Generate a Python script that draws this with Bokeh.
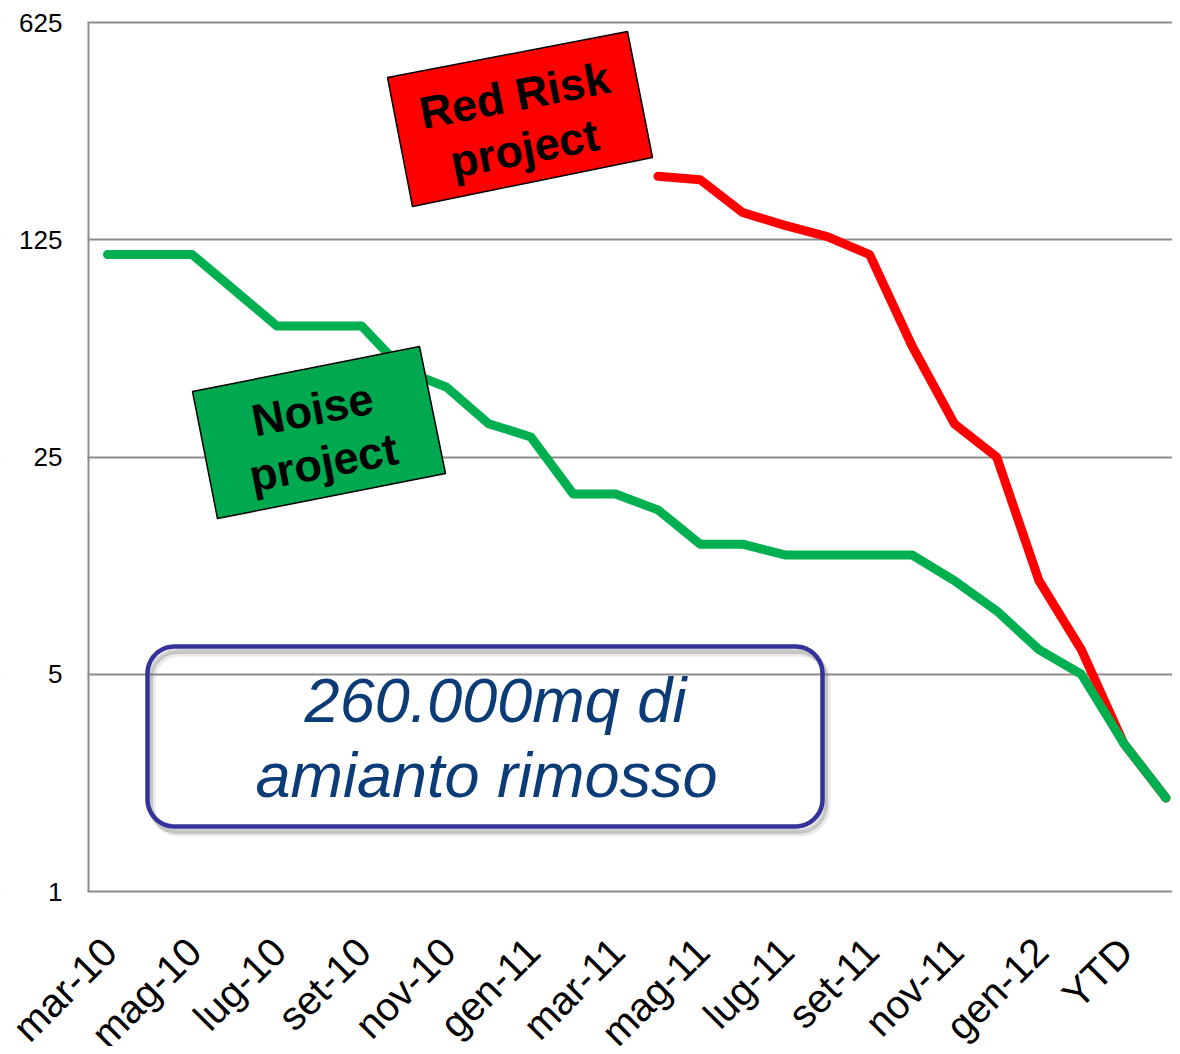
import math
from bokeh.plotting import figure
from bokeh.models import Range1d, FixedTicker, PolyAnnotation, Label
from bokeh.embed import file_html
from bokeh.resources import INLINE

nan = float("nan")

# ---- data ----
months = ["mar-10", "apr-10", "mag-10", "giu-10", "lug-10", "ago-10", "set-10", "ott-10",
          "nov-10", "dic-10", "gen-11", "feb-11", "mar-11", "apr-11", "mag-11", "giu-11",
          "lug-11", "ago-11", "set-11", "ott-11", "nov-11", "dic-11", "gen-12", "feb-12",
          "YTD", ""]
noise_project = [112, 112, 112, 86, 66, 66, 66, 47.5, 42, 32, 29, 19, 19, 16.9, 13.1, 13.1,
                 12.1, 12.1, 12.1, 12.1, 10, 8, 6, 5, 3, 2]
red_risk_project = [nan] * 13 + [200, 195, 153, 139, 128, 112, 57, 32, 25, 10, 6, 3, 2]
y_ticks = [1, 5, 25, 125, 625]
y_tick_labels = ["1", "5", "25", "125", "625"]
label_every = 2

FONT = "Liberation Sans"
GRID = "#8C8C8C"

# ---- geometry of the figure (pixels) ----
W, H = 1172, 1046
AXIS_X = 88                        # pixel column of the value axis
FT = 22                            # pixel row of the top value (625)
AXIS_PX = 891                      # pixel row of the value-1 baseline
UNIT = (AXIS_PX - FT) / 4          # pixels per factor of 5
STEP = 42.34                       # pixels per category
FIRST_PX = 107                     # pixel column of the first category
X0 = -FIRST_PX / STEP
X1 = X0 + W / STEP
Y_MIN = 5 ** (-(H - AXIS_PX) / UNIT)
Y_MAX = 5 ** (4 + FT / UNIT)

xs = list(range(len(months)))


def dx(px):
    return X0 + px / STEP


def dy(py):
    return 5 ** (4 - (py - FT) / UNIT)


p = figure(width=W, height=H, y_axis_type="log",
           x_range=Range1d(X0, X1), y_range=Range1d(Y_MIN, Y_MAX),
           output_backend="svg", toolbar_location=None,
           min_border_left=0, min_border_right=0, min_border_top=0, min_border_bottom=0)
p.outline_line_color = None
p.background_fill_color = "white"
p.border_fill_color = "white"

p.xaxis.visible = False
p.xgrid.visible = False
p.ygrid.ticker = FixedTicker(ticks=y_ticks)
p.ygrid.grid_line_color = GRID
p.ygrid.grid_line_width = 2

p.yaxis.fixed_location = dx(AXIS_X)
p.yaxis.ticker = FixedTicker(ticks=y_ticks)
p.yaxis.major_label_overrides = {t: s for t, s in zip(y_ticks, y_tick_labels)}
p.yaxis.major_label_text_font = FONT
p.yaxis.major_label_text_font_size = "26px"
p.yaxis.major_label_text_color = "black"
p.yaxis.major_label_standoff = 20
p.yaxis.axis_line_color = None
p.yaxis.major_tick_line_color = None
p.yaxis.minor_tick_line_color = None

p.line(xs, red_risk_project, line_color="#FF0000", line_width=9,
       line_cap="round", line_join="round")
p.line(xs, noise_project, line_color="#00B050", line_width=9,
       line_cap="round", line_join="round")


def poly(points, **kw):
    return PolyAnnotation(xs=[dx(a) for a, b in points], ys=[dy(b) for a, b in points], **kw)


def rounded(x0, y0, x1, y1, r, n=14):
    pts = []
    corners = [(x1 - r, y0 + r, -90, 0), (x1 - r, y1 - r, 0, 90),
               (x0 + r, y1 - r, 90, 180), (x0 + r, y0 + r, 180, 270)]
    for cx, cy, a0, a1 in corners:
        for k in range(n + 1):
            a = math.radians(a0 + (a1 - a0) * k / n)
            pts.append((cx + r * math.cos(a), cy + r * math.sin(a)))
    return pts


# keep the grid lines to the right of the value axis
p.add_layout(poly([(-12, -12), (AXIS_X - 1, -12), (AXIS_X - 1, H + 12), (-12, H + 12)],
                  fill_color="white", fill_alpha=1, line_color=None, level="underlay"))

# vertical axis line (stops at the value-1 baseline)
p.add_layout(poly([(AXIS_X, FT), (AXIS_X, AXIS_PX), (AXIS_X + 0.01, AXIS_PX)],
                  fill_color=None, line_color=GRID, line_alpha=1, line_width=2))

# rotated month labels, every second category
for i in range(0, len(months) - 1, label_every):
    p.add_layout(Label(x=i + 2 / STEP, y=dy(AXIS_PX + 53), text=months[i],
                       angle=math.pi / 4, text_align="right", text_baseline="middle",
                       text_font=FONT, text_font_size="40px", text_color="black"))

ANG = math.radians(11)

# Red Risk project tag
p.add_layout(poly([(387, 77), (627, 31), (652, 157), (412, 206)],
                  fill_color="#FF0000", fill_alpha=1, line_color="black",
                  line_alpha=1, line_width=1.5))
for txt, (lx, ly) in (("Red Risk", (514, 95)), ("project", (524, 148))):
    p.add_layout(Label(x=dx(lx), y=dy(ly), text=txt, angle=ANG, text_align="center",
                       text_baseline="alphabetic", text_font=FONT, text_font_size="45px",
                       text_font_style="bold", text_color="black"))

# Noise project tag
p.add_layout(poly([(192, 391), (419, 346), (445, 473), (217, 518)],
                  fill_color="#00A850", fill_alpha=1, line_color="black",
                  line_alpha=1, line_width=1.5))
for txt, (lx, ly) in (("Noise", (312, 409)), ("project", (323, 462))):
    p.add_layout(Label(x=dx(lx), y=dy(ly), text=txt, angle=ANG, text_align="center",
                       text_baseline="alphabetic", text_font=FONT, text_font_size="45px",
                       text_font_style="bold", text_color="black"))

# rounded note box with soft shadow
box = (147, 646, 822, 826, 27)
for off, w, a in ((7, 6, 0.15), (5, 5, 0.3)):
    sh = [(x + off - 2, y + off) for x, y in rounded(*box)]
    p.add_layout(poly(sh, fill_color=None, line_color="#707070", line_alpha=a,
                      line_width=w, level="underlay"))
p.add_layout(poly(rounded(*box), fill_color=None, line_color="#33339A",
                  line_alpha=1, line_width=4.5))
for txt, (lx, ly) in (("260.000mq di", (495, 699)), ("amianto rimosso", (486, 774))):
    p.add_layout(Label(x=dx(lx), y=dy(ly), text=txt, text_align="center",
                       text_baseline="alphabetic", text_font=FONT, text_font_size="63px",
                       text_font_style="italic", text_color="#0B3C77"))

open("out.html", "w").write(file_html(p, INLINE))
